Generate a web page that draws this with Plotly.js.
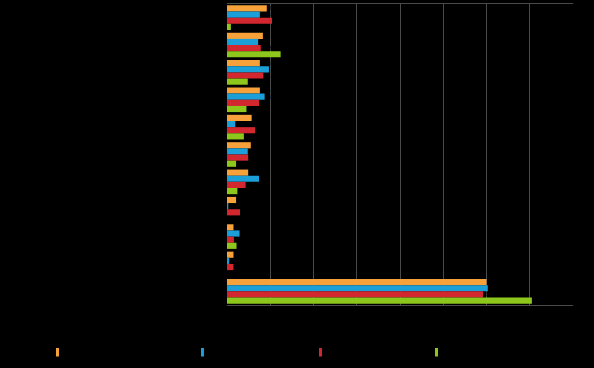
<!DOCTYPE html>
<html>
<head>
<meta charset="utf-8">
<script src="https://cdn.plot.ly/plotly-3.0.1.min.js"></script>
<style>html,body{margin:0;padding:0;background:#000;}#chart{width:594px;height:368px;}</style>
</head>
<body>
<div id="chart"></div>
<script>
// Categories (top to bottom)
const categories = ["Category A", "Category B", "Category C", "Category D", "Category E",
  "Category F", "Category G", "Category H", "Category I", "Category J", "Total"];
// Series names
const seriesNames = ["Private households", "Small traders", "Large traders", "Public sector"];
// Series values
const seriesOrange = [9.2, 8.3, 7.6, 7.6, 5.7, 5.5, 4.9, 2.1, 1.5, 1.5, 60.0];
const seriesBlue   = [7.6, 7.2, 9.7, 8.7, 1.9, 4.8, 7.4, 0.3, 2.9, 0.5, 60.3];
const seriesRed    = [10.4, 7.8, 8.4, 7.4, 6.5, 4.9, 4.3, 3.0, 1.6, 1.5, 59.2];
const seriesGreen  = [0.9, 12.4, 4.8, 4.5, 3.9, 2.1, 2.4, 0, 2.2, 0, 70.5];
// x-axis ticks
const xTicks = [0, 10, 20, 30, 40, 50, 60, 70, 80];

const colors = ["#f6a13a", "#1a9fd8", "#d3272f", "#8dc71c"];
const values = [seriesOrange, seriesBlue, seriesRed, seriesGreen];
const legendIds = ["legend", "legend2", "legend3", "legend4"];
const legendX = [0.0631, 0.3072, 0.5059, 0.7012];

const traces = [];
values.forEach((vals, i) => {
  traces.push({
    type: "bar", orientation: "h",
    y: categories, x: vals,
    name: seriesNames[i], legendgroup: "g" + i, showlegend: false,
    marker: {color: colors[i]},
    text: vals.map(v => v ? v.toFixed(1) : ""),
    textposition: "outside", cliponaxis: false,
    textfont: {color: "#000", size: 9, family: "Liberation Sans, Arial, sans-serif"},
    hoverinfo: "x+y+name"
  });
});
// legend entries with slim symbols, one legend per series
values.forEach((vals, i) => {
  traces.push({
    type: "scatter", mode: "markers",
    x: [null], y: [null],
    name: seriesNames[i], legendgroup: "g" + i, showlegend: true,
    legend: legendIds[i],
    marker: {symbol: "line-ns-open", size: 6, color: colors[i], line: {color: colors[i], width: 3}}
  });
});

const layout = {
  width: 594, height: 368,
  paper_bgcolor: "#000", plot_bgcolor: "#000",
  font: {family: "Liberation Sans, Arial, sans-serif", size: 11, color: "#000"},
  margin: {l: 227, r: 21, t: 4, b: 63, pad: 0},
  barmode: "group", bargap: 0.1, bargroupgap: 0,
  showlegend: true,
  xaxis: {
    range: [0, 80], tickvals: xTicks, ticktext: xTicks.map(String),
    showgrid: true, gridcolor: "#4a4a4a", gridwidth: 1,
    zeroline: false, showline: true, mirror: true, linecolor: "#4a4a4a", linewidth: 1,
    tickfont: {color: "#000", size: 10}, fixedrange: true
  },
  yaxis: {
    type: "category", autorange: "reversed",
    showgrid: false, zeroline: false, showline: false,
    tickfont: {color: "#000", size: 10}, ticks: "", fixedrange: true
  }
};
legendIds.forEach((id, i) => {
  layout[id] = {
    orientation: "h", xref: "container", yref: "container",
    x: legendX[i], y: 0.043, xanchor: "left", yanchor: "middle",
    bgcolor: "rgba(0,0,0,0)", font: {color: "#000", size: 11}
  };
});

Plotly.newPlot("chart", traces, layout, {displayModeBar: false, staticPlot: true});
</script>
</body>
</html>
